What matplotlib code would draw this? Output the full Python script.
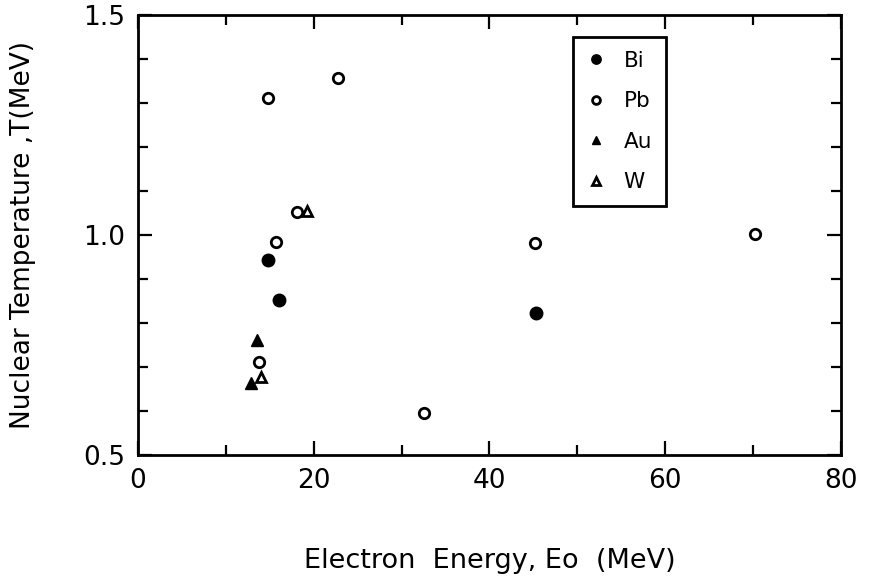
import matplotlib.pyplot as plt
from matplotlib.ticker import MultipleLocator

# values
bi_e = [14.8, 16.0, 45.3]
bi_t = [0.943, 0.852, 0.823]
pb_e = [14.8, 22.75, 18.1, 15.7, 13.8, 32.5, 45.2, 70.2]
pb_t = [1.311, 1.357, 1.052, 0.984, 0.711, 0.595, 0.982, 1.002]
au_e = [13.5, 12.85]
au_t = [0.761, 0.664]
w_e = [19.2, 14.0]
w_t = [1.055, 0.677]

plt.rcParams["font.family"] = ["DejaVu Sans"]

fig = plt.figure(figsize=(8.7, 5.76), dpi=100)
ax = fig.add_axes([0.1586, 0.210, 0.808, 0.764])

ax.plot(bi_e, bi_t, "o", color="black", ms=9, label="Bi")
ax.plot(pb_e, pb_t, "o", mfc="white", mec="black", mew=2.0, ms=7.5, label="Pb")
ax.plot(au_e, au_t, "^", color="black", ms=8, label="Au")
ax.plot(w_e, w_t, "^", mfc="white", mec="black", mew=2.0, ms=7.5, label="W")

ax.set_xlim(0, 80)
ax.set_ylim(0.5, 1.5)
ax.xaxis.set_major_locator(MultipleLocator(20))
ax.xaxis.set_minor_locator(MultipleLocator(10))
ax.yaxis.set_major_locator(MultipleLocator(0.5))
ax.yaxis.set_minor_locator(MultipleLocator(0.1))
ax.tick_params(which="both", direction="in", top=True, right=True,
               width=1.6, labelsize=19)
ax.tick_params(which="major", length=10, pad=9)
ax.tick_params(which="minor", length=7)
ax.yaxis.set_major_formatter(lambda v, p: f"{v:.1f}")
for s in ax.spines.values():
    s.set_linewidth(2.0)

ax.set_xlabel("Electron  Energy, Eo  (MeV)", fontsize=19.5, labelpad=39)
ax.set_ylabel("Nuclear Temperature ,T(MeV)", fontsize=19, labelpad=34)

leg = ax.legend(loc="upper left", bbox_to_anchor=(0.619, 0.95),
                borderaxespad=0, fancybox=False, edgecolor="black",
                framealpha=1, fontsize=15.5, labelspacing=0.95,
                handletextpad=0.9, borderpad=0.65, markerscale=0.75,
                handlelength=0.8)
leg.get_frame().set_linewidth(2.0)

fig.savefig("out.png", dpi=100)
